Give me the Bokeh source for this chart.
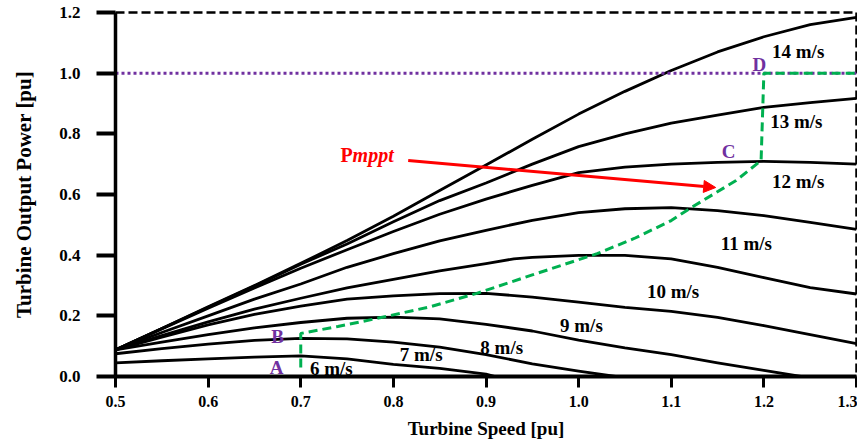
from bokeh.plotting import figure
from bokeh.models import Range1d, FixedTicker, NumeralTickFormatter, Arrow, NormalHead
from bokeh.core.properties import value
from bokeh.embed import file_html
from bokeh.resources import INLINE

# ---- data ----
x_6 = [0.5, 0.55, 0.6, 0.65, 0.7, 0.75, 0.8, 0.85, 0.9, 0.91]
p_6 = [0.045, 0.052, 0.058, 0.064, 0.068, 0.058, 0.040, 0.027, 0.008, 0.0]

x_7 = [0.5, 0.55, 0.6, 0.65, 0.7, 0.75, 0.8, 0.85, 0.9, 0.95, 1.0, 1.04]
p_7 = [0.075, 0.092, 0.107, 0.119, 0.126, 0.124, 0.113, 0.097, 0.072, 0.042, 0.018, 0.0]

x_8 = [0.5, 0.55, 0.6, 0.65, 0.7, 0.75, 0.8, 0.85, 0.9, 0.95, 1.0, 1.05, 1.1, 1.15, 1.2, 1.24]
p_8 = [0.088, 0.113, 0.138, 0.160, 0.178, 0.192, 0.196, 0.190, 0.172, 0.150, 0.120, 0.094,
       0.072, 0.045, 0.020, 0.0]

x_full = [0.5, 0.55, 0.6, 0.65, 0.7, 0.75, 0.8, 0.85, 0.9, 0.95, 1.0, 1.05, 1.1, 1.15, 1.2, 1.25, 1.3]
p_9 = [0.088, 0.130, 0.170, 0.205, 0.232, 0.255, 0.266, 0.273, 0.274, 0.262, 0.245, 0.228,
       0.215, 0.195, 0.168, 0.138, 0.108]
x_10 = [0.5, 0.55, 0.6, 0.65, 0.7, 0.75, 0.8, 0.85, 0.9, 0.93, 0.95, 1.0, 1.05, 1.1, 1.15, 1.2, 1.25, 1.3]
p_10 = [0.088, 0.135, 0.180, 0.222, 0.258, 0.292, 0.320, 0.348, 0.372, 0.388, 0.393, 0.399,
        0.399, 0.388, 0.360, 0.326, 0.293, 0.272]
p_11 = [0.088, 0.145, 0.200, 0.255, 0.305, 0.360, 0.405, 0.447, 0.482, 0.515, 0.540, 0.553,
        0.557, 0.547, 0.530, 0.508, 0.485]
p_12 = [0.088, 0.157, 0.225, 0.292, 0.357, 0.418, 0.478, 0.535, 0.585, 0.630, 0.672, 0.690,
        0.700, 0.706, 0.709, 0.706, 0.700]
p_13 = [0.088, 0.158, 0.228, 0.298, 0.370, 0.437, 0.510, 0.580, 0.638, 0.700, 0.758, 0.800,
        0.835, 0.862, 0.887, 0.903, 0.917]
p_14 = [0.088, 0.158, 0.230, 0.300, 0.373, 0.448, 0.528, 0.613, 0.697, 0.782, 0.865, 0.940,
        1.009, 1.070, 1.120, 1.160, 1.184]

mppt_x = [0.70, 0.70, 0.74, 0.78, 0.84, 0.89, 0.95, 1.02, 1.06, 1.10, 1.12, 1.17, 1.197, 1.20, 1.30]
mppt_y = [0.03, 0.142, 0.165, 0.19, 0.23, 0.274, 0.335, 0.405, 0.455, 0.514, 0.554, 0.646, 0.712, 1.0, 1.0]

rated_x = [0.5, 1.3]
rated_y = [1.0, 1.0]

speed_labels = ["6 m/s", "7 m/s", "8 m/s", "9 m/s", "10 m/s", "11 m/s", "12 m/s", "13 m/s", "14 m/s"]
speed_label_x = [0.733, 0.830, 0.917, 1.003, 1.102, 1.181, 1.237, 1.235, 1.237]
speed_label_y = [0.026, 0.073, 0.096, 0.168, 0.280, 0.439, 0.643, 0.841, 1.072]

point_labels = ["A", "B", "C", "D"]
point_label_x = [0.674, 0.675, 1.162, 1.195]
point_label_y = [0.030, 0.132, 0.742, 1.029]

arrow_start = (0.816, 0.712)
arrow_end = (1.148, 0.623)
pmppt_pos = (0.756, 0.729)

x_ticks = [0.5, 0.6, 0.7, 0.8, 0.9, 1.0, 1.1, 1.2, 1.3]
y_ticks = [0.0, 0.2, 0.4, 0.6, 0.8, 1.0, 1.2]

SERIF = "Liberation Serif"
PURPLE = "#7030A0"
GREEN = "#00B050"

p = figure(width=857, height=443, x_range=Range1d(0.5, 1.3), y_range=Range1d(0, 1.2),
           output_backend="svg", toolbar_location=None,
           min_border_left=115, min_border_right=1, min_border_top=12, min_border_bottom=67)
p.background_fill_color = "white"
p.border_fill_color = "white"
p.xgrid.visible = False
p.ygrid.visible = False
p.outline_line_color = "black"
p.outline_line_width = 2.5
p.outline_line_dash = "9 4"
p.outline_line_alpha = 1.0

# curves
for xs, ys in [(x_6, p_6), (x_7, p_7), (x_8, p_8), (x_full, p_9), (x_10, p_10),
               (x_full, p_11), (x_full, p_12), (x_full, p_13), (x_full, p_14)]:
    p.line(xs, ys, line_color="black", line_width=2.8, line_join="round")

p.line(rated_x, rated_y, line_color=PURPLE, line_width=3, line_dash="3 3")
p.line(mppt_x, mppt_y, line_color=GREEN, line_width=3, line_dash="9 5")

p.add_layout(Arrow(end=NormalHead(size=12, fill_color="red", line_color="red"),
                   x_start=arrow_start[0], y_start=arrow_start[1],
                   x_end=arrow_end[0], y_end=arrow_end[1],
                   line_color="red", line_width=3))

p.text(x=speed_label_x, y=speed_label_y, text=speed_labels, text_font=value(SERIF),
       text_font_style="bold", text_font_size="19px", text_color="black",
       text_align="center", text_baseline="middle")
p.text(x=point_label_x, y=point_label_y, text=point_labels, text_font=value(SERIF),
       text_font_style="bold", text_font_size="19px", text_color=PURPLE,
       text_align="center", text_baseline="middle")
p.text(x=[pmppt_pos[0]], y=[pmppt_pos[1]], text=["P"], text_font=value(SERIF),
       text_font_style="bold", text_font_size="20px", text_color="red",
       text_align="right", text_baseline="middle")
p.text(x=[pmppt_pos[0]], y=[pmppt_pos[1]], text=["mppt"], text_font=value(SERIF),
       text_font_style="bold italic", text_font_size="20px", text_color="red",
       text_align="left", text_baseline="middle")

# axes
xa = p.xaxis[0]
xa.ticker = FixedTicker(ticks=x_ticks)
xa.formatter = NumeralTickFormatter(format="0.0")
xa.axis_label = "Turbine Speed [pu]"
xa.axis_label_text_font = SERIF
xa.axis_label_text_font_style = "bold"
xa.axis_label_text_font_size = "19px"
xa.axis_label_text_color = "black"
xa.axis_label_standoff = 8
xa.major_label_text_font = SERIF
xa.major_label_text_font_style = "bold"
xa.major_label_text_font_size = "16px"
xa.major_label_text_color = "black"
xa.major_label_standoff = 8
xa.axis_line_width = 4
xa.axis_line_color = "black"
xa.major_tick_line_width = 3
xa.major_tick_line_color = "black"
xa.major_tick_out = 11
xa.major_tick_in = 0
xa.minor_tick_line_color = None

ya = p.yaxis[0]
ya.ticker = FixedTicker(ticks=y_ticks)
ya.formatter = NumeralTickFormatter(format="0.0")
ya.axis_label = "Turbine Output Power [pu]"
ya.axis_label_text_font = SERIF
ya.axis_label_text_font_style = "bold"
ya.axis_label_text_font_size = "21px"
ya.axis_label_text_color = "black"
ya.axis_label_standoff = 20
ya.major_label_text_font = SERIF
ya.major_label_text_font_style = "bold"
ya.major_label_text_font_size = "17px"
ya.major_label_text_color = "black"
ya.major_label_standoff = 16
ya.axis_line_width = 3.5
ya.axis_line_color = "black"
ya.major_tick_line_width = 4
ya.major_tick_line_color = "black"
ya.major_tick_out = 19
ya.major_tick_in = 0
ya.minor_tick_line_color = None

open("out.html", "w").write(file_html(p, INLINE))
